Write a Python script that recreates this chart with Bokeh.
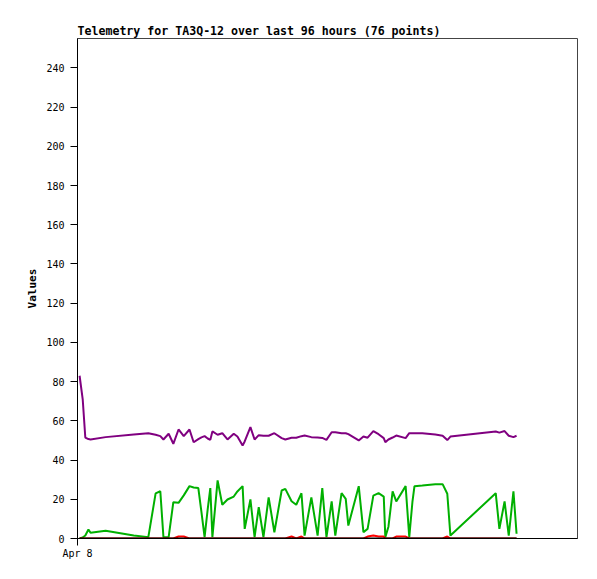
from bokeh.plotting import figure
from bokeh.models import Range1d, FixedTicker
from bokeh.embed import file_html
from bokeh.resources import INLINE

# hours since start of window (Apr 8)
hours = [0.4, 1.0, 1.5, 2.1, 2.5, 5.4, 10.8, 13.6,
         15.0, 15.9, 16.5, 17.5, 18.4, 19.4, 20.4, 21.5, 22.3, 23.2,
         23.8, 24.4, 25.0, 25.5, 25.9, 26.9, 27.8, 28.8, 30.0, 30.7,
         31.7, 32.1, 33.2, 34.0, 34.8, 35.7, 36.7, 37.8, 39.2, 39.9,
         41.1, 42.0, 43.0, 43.6, 44.9, 46.1, 47.0, 47.8, 48.8, 49.5,
         50.7, 51.5, 52.0, 54.0, 54.9, 55.7, 56.8, 57.8, 58.8, 59.1,
         59.7, 60.5, 61.2, 63.0, 63.7, 64.3, 64.7, 66.2, 68.7, 70.1,
         71.0, 71.6, 80.3, 81.0, 82.0, 82.8, 83.7, 84.3]

purple_vals = [83, 71, 51.5, 50.7, 50.5, 51.7, 53.1, 53.7,
               52.9, 52.2, 50.5, 53.4, 48.3, 55.6, 52.2, 55.6, 49.1, 50.7,
               51.6, 52.2, 51.0, 50.3, 54.6, 52.9, 53.7, 50.5, 53.4, 52.0,
               47.4, 49.5, 56.8, 50.5, 52.7, 52.4, 52.4, 53.7, 51.2, 50.5,
               51.4, 51.4, 52.2, 52.5, 51.7, 51.5, 51.3, 50.3, 54.2, 54.2,
               53.7, 53.7, 53.2, 50.0, 52.0, 51.4, 54.8, 53.2, 51.2, 49.1,
               50.5, 51.5, 52.5, 51.2, 53.7, 53.7, 53.7, 53.7, 53.0, 52.4,
               50.2, 52.0, 54.6, 54.0, 54.8, 52.4, 51.7, 52.4]

green_vals = [0, 0.5, 1.5, 4.6, 2.9, 3.9, 1.5, 0.7,
              23, 24.1, 0.7, 0.7, 18.5, 18.2, 22, 26.7, 26, 25.7,
              13.4, 0.7, 15, 25.7, 0.7, 29.6, 17.2, 19.9, 21.4, 24,
              26.7, 4.9, 19.9, 0.7, 16, 0.7, 21, 3.2, 24.5, 25.3,
              19, 17.2, 23.1, 1.5, 21, 1.5, 25.7, 0.7, 18.9, 1.5,
              23.1, 20.2, 6.6, 26.7, 3.2, 4.9, 21.9, 23.1, 21.4, 0.7,
              6, 24, 18.9, 26.7, 0.7, 18.5, 26.7, 27, 27.7, 27.7,
              22.8, 1.5, 23.1, 4.9, 18.9, 1.5, 24.1, 2.4]

red_vals = [0, 0, 0, 0, 0, 0, 0, 0,
            0, 0, 0, 0, 0, 1, 1, 0, 0, 0,
            0, 0, 0, 0, 0, 0, 0, 0, 0, 0,
            0, 0, 0, 0, 0, 0, 0, 0, 0, 0,
            1, 0, 1, 0, 0, 0, 0, 0, 0, 0,
            0, 0, 0, 0, 0, 1, 1.5, 1, 1, 0,
            0, 0, 1, 1, 0, 0, 0, 0, 0, 0,
            1, 0, 0, 0, 0, 0, 0, 0]

black_vals = [0] * len(hours)

y_ticks = list(range(0, 241, 20))
x_tick_labels = {0: "Apr 8"}

MONO = "DejaVu Sans Mono"

p = figure(width=589, height=571, output_backend="svg", toolbar_location=None,
           x_range=Range1d(0, 96), y_range=Range1d(0, 255),
           min_border_left=77, min_border_right=12, min_border_top=38,
           min_border_bottom=33,
           title="Telemetry for TA3Q-12 over last 96 hours (76 points)")

p.title.text_font = MONO
p.title.text_font_size = "11.6px"
p.title.text_font_style = "bold"
p.title.text_color = "black"
p.title.align = "left"
p.title.offset = 0
p.title.standoff = 2

p.xgrid.visible = False
p.ygrid.visible = False
p.outline_line_color = "#444444"
p.outline_line_width = 1
p.background_fill_color = "white"
p.border_fill_color = "white"

p.yaxis.ticker = FixedTicker(ticks=y_ticks)
p.yaxis.minor_tick_line_color = None
p.yaxis.major_tick_out = 7
p.yaxis.major_tick_in = 0
p.yaxis.axis_line_color = "black"
p.yaxis.major_tick_line_color = "black"
p.yaxis.major_label_text_font = MONO
p.yaxis.major_label_text_font_size = "10px"
p.yaxis.major_label_text_color = "black"
p.yaxis.major_label_standoff = 6
p.yaxis.axis_label = "Values"
p.yaxis.axis_label_text_font = MONO
p.yaxis.axis_label_text_font_size = "11px"
p.yaxis.axis_label_text_font_style = "bold"
p.yaxis.axis_label_text_color = "black"
p.yaxis.axis_label_standoff = 4

p.xaxis.ticker = FixedTicker(ticks=[0])
p.xaxis.major_label_overrides = x_tick_labels
p.xaxis.minor_tick_line_color = None
p.xaxis.major_tick_out = 7
p.xaxis.major_tick_in = 0
p.xaxis.axis_line_color = "black"
p.xaxis.major_tick_line_color = "black"
p.xaxis.major_label_text_font = MONO
p.xaxis.major_label_text_font_size = "10px"
p.xaxis.major_label_text_color = "black"
p.xaxis.major_label_standoff = 2

p.line(hours, green_vals, line_color="#00b000", line_width=2)
p.line(hours, purple_vals, line_color="#800080", line_width=2)
p.line(hours, red_vals, line_color="#ff0000", line_width=2)
p.line(hours, black_vals, line_color="#000000", line_width=2)

open("out.html", "w").write(file_html(p, INLINE))
